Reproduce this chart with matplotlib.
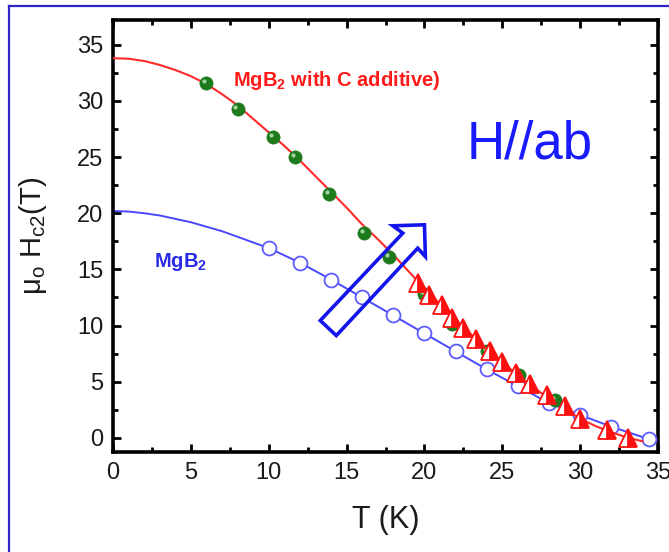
import matplotlib
matplotlib.use("Agg")
import matplotlib.pyplot as plt
import matplotlib.transforms as mtransforms
from matplotlib.patches import Polygon
from matplotlib.lines import Line2D
from matplotlib.ticker import MultipleLocator

# data
# MgB2 with C additive: fit curve, green points, half-filled red triangles
red_fit_T = [0, 1, 2, 3, 4, 5, 6, 7, 8, 9, 10, 11, 12, 13, 14, 15, 16, 17,
             18, 19, 20, 21, 22, 23, 24, 25, 26, 27, 28, 29, 30, 31, 32, 33, 34]
red_fit_H = [33.8, 33.75, 33.55, 33.2, 32.75, 32.2, 31.5, 30.6, 29.6, 28.4,
             27.2, 26.0, 24.7, 23.3, 21.9, 20.5, 19.0, 17.7, 16.3, 14.8, 13.3,
             11.9, 10.5, 9.2, 7.9, 6.7, 5.6, 4.5, 3.5, 2.6, 1.7, 1.05, 0.5, 0.05, -0.3]

green_T = [6.0, 8.0, 10.3, 11.7, 13.9, 16.1, 17.7, 20.0, 21.8, 24.0, 26.1, 28.4]
green_H = [31.6, 29.3, 26.8, 25.0, 21.7, 18.2, 16.1, 12.8, 10.1, 7.7, 5.6, 3.4]

tri_T = [19.6, 20.3, 21.1, 21.8, 22.5, 23.3, 24.2, 25.0, 25.9, 26.8, 27.9, 29.0, 30.0, 31.7, 33.1]
tri_H = [13.8, 12.7, 11.8, 10.7, 9.8, 8.8, 7.7, 6.8, 5.8, 4.8, 3.8, 2.8, 1.7, 0.7, 0.0]

# pure MgB2: fit curve at low T, open circles
blue_fit_T = [0, 1, 2, 3, 4, 5, 6, 7, 8, 9, 10]
blue_fit_H = [20.2, 20.15, 20.0, 19.8, 19.5, 19.2, 18.8, 18.4, 17.9, 17.4, 16.9]

circ_T = [10, 12, 14, 16, 18, 20, 22, 24, 26, 28, 30, 32, 34.4]
circ_H = [16.9, 15.6, 14.1, 12.5, 10.9, 9.3, 7.7, 6.1, 4.6, 3.1, 2.05, 1.0, -0.1]

# hollow arrow outline (T, H)
arrow_T = [13.31, 18.61, 17.97, 20.0, 20.06, 19.57, 14.34]
arrow_H = [10.45, 18.23, 18.88, 18.97, 16.14, 16.89, 9.11]

plt.rcParams["font.family"] = ["Liberation Sans", "DejaVu Sans"]
plt.rcParams["mathtext.fontset"] = "custom"
plt.rcParams["mathtext.rm"] = "Liberation Sans"
plt.rcParams["mathtext.it"] = "Liberation Sans:italic"
plt.rcParams["mathtext.bf"] = "Liberation Sans:bold"

fig = plt.figure(figsize=(6.69, 5.52), dpi=100)
ax = fig.add_axes([0.1689, 0.1812, 0.8147, 0.7826])

blue_line_T = blue_fit_T + circ_T[1:]
blue_line_H = blue_fit_H + circ_H[1:]
ax.plot(blue_line_T, blue_line_H, color="#4848ff", lw=1.4, zorder=2)
ax.plot(circ_T, circ_H, "o", ms=10, mfc="white", mec="#5c5cff", mew=1.3, zorder=3)

ax.plot(red_fit_T, red_fit_H, color="#ff2a2a", lw=1.5, zorder=4)
ax.plot(green_T, green_H, "o", ms=9.5, mfc="#1d7a1d", mec="#1d7a1d", mew=0.5, zorder=5)
hl = ax.transData + mtransforms.ScaledTranslation(-1.5 / 72, 1.5 / 72, fig.dpi_scale_trans)
ax.plot(green_T, green_H, "o", ms=3, mfc="#9fd49f", mec="none", transform=hl, zorder=5)

ax.plot(tri_T, tri_H, "^", ms=12.5, fillstyle="right", mfc="#ff1010",
        mfcalt="white", mec="#ff1010", mew=1.3, zorder=6)

arrow = Polygon(list(zip(arrow_T, arrow_H)), closed=True, fill=False,
                edgecolor="#1414ee", lw=2.6, joinstyle="miter", zorder=7)
ax.add_patch(arrow)

ax.text(7.7, 31.35, r"MgB$_\mathbf{2}$ with C additive)", color="#ff1a1a",
        fontsize=14.5, fontweight="bold", va="baseline", ha="left")
ax.text(2.63, 15.25, r"MgB$_\mathbf{2}$", color="#2a2ae8",
        fontsize=14.5, fontweight="bold", va="baseline", ha="left")
ax.text(22.7, 24.9, "H//ab", color="#1a1aff", fontsize=38,
        va="baseline", ha="left")

ax.set_xlim(0, 35)
ax.set_ylim(-1.25, 37.2)
ax.xaxis.set_major_locator(MultipleLocator(5))
ax.xaxis.set_minor_locator(MultipleLocator(2.5))
ax.yaxis.set_major_locator(MultipleLocator(5))
ax.yaxis.set_minor_locator(MultipleLocator(2.5))
ax.tick_params(which="both", direction="in", top=True, right=True,
               labelsize=17, labelcolor="#1a1a1a", pad=7)
ax.tick_params(which="major", length=6, width=2)
ax.tick_params(which="minor", length=3.5, width=2)
for s in ax.spines.values():
    s.set_linewidth(2.6)

ax.set_xlabel("T (K)", fontsize=22, color="#1a1a1a")
ax.xaxis.set_label_coords(0.5, -0.123)
ax.set_ylabel(r"$\mathregular{μ_o\ H_{c2}(T)}$", fontsize=21, color="#1a1a1a")
ax.yaxis.set_label_coords(-0.118, 0.5)

# blue frame on the left and top of the slide
fig.add_artist(Line2D([0.0135, 0.0135], [0, 0.989], color="#3322cc", lw=1.6))
fig.add_artist(Line2D([0.0135, 1], [0.989, 0.989], color="#3322cc", lw=1.6))

fig.savefig("out.png", dpi=100)
